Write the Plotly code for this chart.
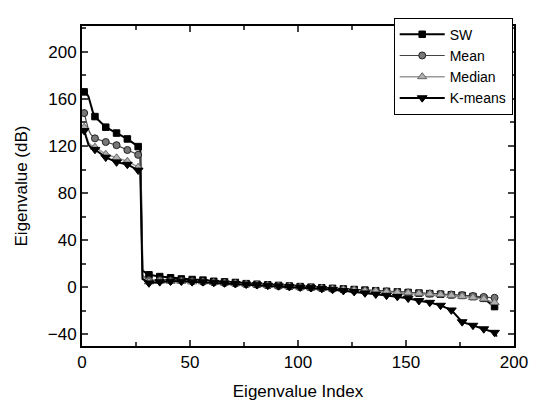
import plotly.graph_objects as go

# Eigenvalue index for each read point (markers every 5th index)
idx = [1, 2, 3, 4, 5, 6, 11, 16, 21, 26, 27, 28,
       31, 36, 41, 46, 51, 56, 61, 66, 71, 76, 81, 86, 91, 96, 101, 106, 111, 116,
       121, 126, 131, 136, 141, 146, 151, 156, 161, 166, 171, 176, 181, 186, 191, 192]

sw = [166, 165, 162, 155, 149, 145, 136, 131, 126, 119.5, 117, 14,
      10.5, 9, 8, 7, 6.5, 6, 5, 4.5, 4, 3, 2.5, 2, 1.5, 1, 0.5, 0, -0.5, -1,
      -1.5, -2, -2.5, -3, -3.5, -4, -4.5, -5, -5.5, -6, -6.5, -7, -8, -9.5, -16.5, -18]
mean = [148, 141, 134, 130, 128, 126.5, 123.4, 120.7, 116.6, 112.5, 110, 10,
        6, 6, 5.5, 5.5, 5, 4.5, 4, 3.5, 3, 2.5, 2, 1.5, 1, 0.5, 0, -0.5, -1, -1.5,
        -2, -2.5, -3, -3.3, -3.8, -4.2, -4.6, -5, -5.4, -5.8, -6.2, -6.8, -7.5, -8.3, -9, -9.5]
median = [136, 128, 123, 121, 120, 119, 113, 110, 107, 102, 100, 8,
          4.5, 5, 5, 5, 4.5, 4.5, 4, 3.5, 3, 2.5, 2, 1.5, 1, 0.5, 0, -0.5, -1, -1.5,
          -2, -2.5, -3, -3.3, -3.8, -4.3, -4.8, -5.3, -5.8, -6.3, -7, -7.8, -8.8, -10, -13, -15]
kmeans = [133, 126, 121, 119, 118, 117, 110.4, 106.3, 104.3, 99.4, 97, 7,
          3.5, 4.5, 5, 5, 4.5, 4.5, 4, 3.5, 3, 2.5, 2, 1.5, 1, 0.5, 0, -0.5, -1.2, -2,
          -3, -3.8, -5, -6, -7, -8, -9.5, -11.5, -13, -15.5, -19.5, -29.5, -32.5, -35.5, -38.5, -42]

series_names = ["SW", "Mean", "Median", "K-means"]
series_values = [sw, mean, median, kmeans]

styles = [
    dict(lc="black", lw=2, sym="square", ms=6.5, mc="black", mlc="black"),
    dict(lc="#444444", lw=1.2, sym="circle", ms=7, mc="#777777", mlc="#222222"),
    dict(lc="#9a9a9a", lw=1.5, sym="triangle-up", ms=8, mc="#b0b0b0", mlc="#666666"),
    dict(lc="black", lw=2, sym="triangle-down", ms=8.5, mc="black", mlc="black"),
]

fig = go.Figure()
for name, vals, st in zip(series_names, series_values, styles):
    mx = [i for i in idx if i % 5 == 1]
    my = [v for i, v in zip(idx, vals) if i % 5 == 1]
    fig.add_trace(go.Scatter(x=idx, y=vals, mode="lines", showlegend=False,
                             line=dict(color=st["lc"], width=st["lw"]), legendgroup=name))
    fig.add_trace(go.Scatter(x=mx, y=my, mode="markers", showlegend=False, legendgroup=name,
                             marker=dict(symbol=st["sym"], size=st["ms"], color=st["mc"],
                                         line=dict(color=st["mlc"], width=1))))
    fig.add_trace(go.Scatter(x=[None], y=[None], mode="lines+markers", name=name, legendgroup=name,
                             line=dict(color=st["lc"], width=st["lw"]),
                             marker=dict(symbol=st["sym"], size=st["ms"], color=st["mc"],
                                         line=dict(color=st["mlc"], width=1))))

font_family = "Liberation Sans, Arial, sans-serif"
fig.update_layout(
    width=555, height=412,
    margin=dict(l=74, r=49, t=10, b=74),
    paper_bgcolor="white", plot_bgcolor="white",
    font=dict(family=font_family, size=16, color="black"),
    legend=dict(x=0.997, xanchor="right", y=1.026, yanchor="top",
                bordercolor="black", borderwidth=1, bgcolor="white",
                font=dict(size=14), tracegroupgap=0, itemwidth=45),
    xaxis=dict(range=[0, 200], tick0=0, dtick=50, ticks="inside", ticklen=6, tickwidth=1.5,
               showline=True, linecolor="black", linewidth=2, mirror="ticks",
               showgrid=False, zeroline=False,
               minor=dict(dtick=25, ticks="inside", ticklen=4, tickwidth=1.5, showgrid=False),
               title=dict(text="Eigenvalue Index", standoff=14, font=dict(size=17)),
               tickfont=dict(size=17)),
    yaxis=dict(range=[-50, 222], tick0=0, dtick=40, ticks="inside", ticklen=6, tickwidth=1.5,
               showline=True, linecolor="black", linewidth=2, mirror="ticks",
               showgrid=False, zeroline=False,
               minor=dict(dtick=20, ticks="inside", ticklen=4, tickwidth=1.5, showgrid=False),
               title=dict(text="Eigenvalue (dB)", standoff=16, font=dict(size=17)),
               tickfont=dict(size=17)),
)

fig.write_html("out.html")
